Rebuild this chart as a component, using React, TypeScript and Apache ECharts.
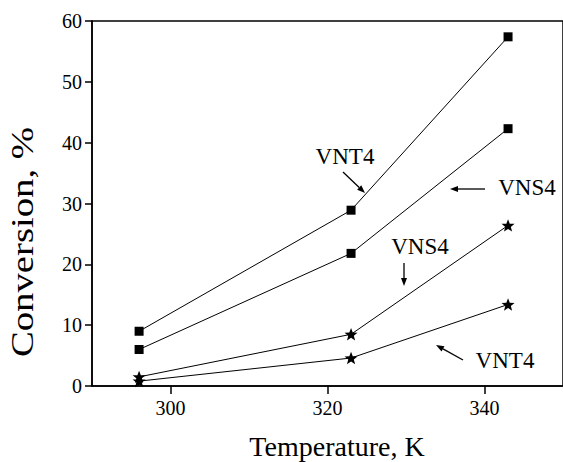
import React, { useEffect, useRef } from "react";
import * as echarts from "echarts";

const temps = [296, 323, 343];
const vnt4Square = [9.0, 28.9, 57.4];
const vns4Square = [6.0, 21.8, 42.3];
const vns4Star = [1.5, 8.5, 26.4];
const vnt4Star = [0.8, 4.6, 13.4];
const xTickValues = [300, 320, 340];

const FONT = "Liberation Serif, Times New Roman, serif";
const STAR =
  "path://M12,1 L14.9,8.6 L23,8.9 L16.7,14 L18.9,22 L12,17.5 L5.1,22 L7.3,14 L1,8.9 L9.1,8.6 Z";

function arrow(x1: number, y1: number, x2: number, y2: number) {
  const dx = x2 - x1;
  const dy = y2 - y1;
  const len = Math.sqrt(dx * dx + dy * dy);
  const ux = dx / len;
  const uy = dy / len;
  const hl = 8;
  const hw = 3;
  const bx = x2 - ux * hl;
  const by = y2 - uy * hl;
  return [
    {
      type: "line",
      shape: { x1, y1, x2: bx, y2: by },
      style: { stroke: "#000", lineWidth: 1.3 },
    },
    {
      type: "polygon",
      shape: {
        points: [
          [x2, y2],
          [bx - uy * hw, by + ux * hw],
          [bx + uy * hw, by - ux * hw],
        ],
      },
      style: { fill: "#000" },
    },
  ];
}

function label(text: string, x: number, y: number, size = 23) {
  return {
    type: "text",
    x,
    y,
    style: {
      text,
      fontFamily: FONT,
      fontSize: size,
      fill: "#000",
      align: "center",
      verticalAlign: "middle",
    },
  };
}

function mk(values: number[], symbol: string, size: number) {
  return {
    type: "line",
    data: temps.map((t, i) => [t, values[i]]),
    symbol,
    symbolSize: size,
    symbolKeepAspect: true,
    showSymbol: true,
    lineStyle: { color: "#000", width: 1 },
    itemStyle: { color: "#000", borderWidth: 0 },
    z: 3,
  };
}

export default function App() {
  const ref = useRef<HTMLDivElement>(null);
  useEffect(() => {
    if (!ref.current) return;
    const chart = echarts.init(ref.current, null, { renderer: "svg" });
    chart.setOption({
      animation: false,
      backgroundColor: "#fff",
      textStyle: { fontFamily: FONT },
      grid: {
        left: 92,
        top: 21,
        right: -8,
        bottom: 76,
        show: true,
        borderColor: "#000",
        borderWidth: 1.5,
      },
      xAxis: {
        type: "value",
        min: 290,
        max: 350,
        axisLine: { show: true, lineStyle: { color: "#000", width: 1.5 } },
        axisTick: {
          show: true,
          length: 8,
          customValues: xTickValues,
          lineStyle: { color: "#000", width: 1.5 },
        },
        axisLabel: {
          customValues: xTickValues,
          color: "#000",
          fontFamily: FONT,
          fontSize: 20,
          margin: 12,
        },
        splitLine: { show: false },
      },
      yAxis: {
        type: "value",
        min: 0,
        max: 60,
        interval: 10,
        axisLine: { show: true, lineStyle: { color: "#000", width: 1.5 } },
        axisTick: { show: true, length: 7, lineStyle: { color: "#000", width: 1.5 } },
        axisLabel: {
          color: "#000",
          fontFamily: FONT,
          fontSize: 20,
          margin: 10,
        },
        splitLine: { show: false },
      },
      series: [
        mk(vnt4Square, "rect", 9),
        mk(vns4Square, "rect", 9),
        mk(vns4Star, STAR, 13),
        mk(vnt4Star, STAR, 13),
      ],
      graphic: [
        {
          type: "text",
          x: 23,
          y: 242,
          rotation: Math.PI / 2,
          scaleX: 1.25,
          style: {
            text: "Conversion, %",
            fontFamily: FONT,
            fontSize: 31,
            fill: "#000",
            align: "center",
            verticalAlign: "middle",
          },
        },
        {
          type: "text",
          x: 337,
          y: 446,
          style: {
            text: "Temperature, K",
            fontFamily: FONT,
            fontSize: 28,
            fill: "#000",
            align: "center",
            verticalAlign: "middle",
          },
        },
        label("VNT4", 345, 156),
        ...arrow(343, 172, 365, 193),
        label("VNS4", 527, 187),
        ...arrow(485, 189, 450, 189),
        label("VNS4", 420, 246),
        ...arrow(404, 263, 404, 286),
        label("VNT4", 505, 360),
        ...arrow(463, 360, 436, 345),
      ],
    });
    return () => chart.dispose();
  }, []);
  return (
    <div
      ref={ref}
      style={{ position: "absolute", left: 0, top: 0, width: 563, height: 462 }}
    />
  );
}
